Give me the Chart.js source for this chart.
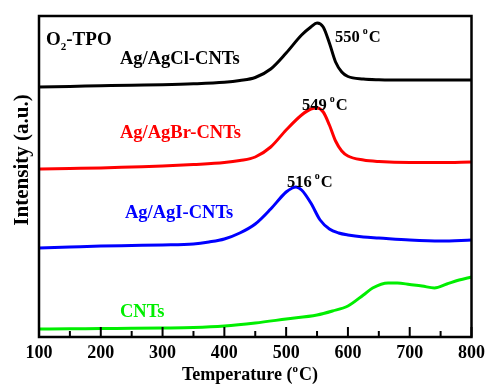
<!DOCTYPE html>
<html>
<head>
<meta charset="utf-8">
<script src="https://cdn.jsdelivr.net/npm/chart.js@4"></script>
<style>
html,body{margin:0;padding:0;background:#fff;}
#wrap{width:491px;height:386px;}
</style>
</head>
<body>
<div id="wrap"><canvas id="c" width="491" height="386"></canvas></div>
<script>
// Temperature (°C) sample points for each curve (intensity in arbitrary units)
const tAgCl = [100,150,200,250,300,350,400,425,450,475,500,525,540,550,560,570,580,590,600,625,650,700,750,800];
const vAgCl = [250,250.6,251.2,251.8,252.3,253.2,254.8,256.5,259.5,268,284,302,310,314,310,294,275,265,260.5,258,257.3,257,257,257];

const tAgBr = [100,150,200,250,300,350,400,425,450,475,500,525,540,550,560,570,580,590,600,625,650,700,750,800];
const vAgBr = [168,168.5,169,170,171,172.5,174.5,176.5,180,190,207,222,228,229,225,212,196,186,181,177,175.5,174.5,174.5,175];

const tAgI = [100,150,200,250,300,350,375,400,425,450,475,500,510,516,525,540,555,570,585,600,625,650,700,750,800];
const vAgI = [89,90,91,91.5,92,93,95,98,104,113,128,145,149,150,147,134,117,108,104,102,100,99,97,96,97];

const tCNT = [100,150,200,250,300,350,400,450,500,550,575,600,625,640,665,680,700,720,740,760,780,800];
const vCNT = [8,8.2,8.5,8.7,9,9.5,11,14,18,22,26,31,42,49,54,54,52.5,51,49,53,57,60];

const seriesNames = ['Ag/AgCl-CNTs','Ag/AgBr-CNTs','Ag/AgI-CNTs','CNTs'];
const seriesColors = ['#000000','#ff0000','#0000ff','#00ee00'];
const peakLabels = ['550','549','516'];
const xTicks = [100,200,300,400,500,600,700,800];

const SERIF = "'Liberation Serif','Times New Roman',serif";

function pts(t,v){ return t.map((x,i)=>({x:x,y:v[i]})); }

function drawRich(ctx, parts, x, y){
  let cx = x;
  for(const p of parts){
    ctx.font = 'bold ' + p.size + 'px ' + SERIF;
    ctx.fillText(p.text, cx, y + (p.dy||0));
    cx += ctx.measureText(p.text).width + (p.gap||0);
  }
}

const decor = {
  id:'decor',
  afterDatasetsDraw(chart){
    const ctx = chart.ctx, a = chart.chartArea, xs = chart.scales.x;
    ctx.save();
    // frame
    ctx.strokeStyle = '#000'; ctx.lineWidth = 2.5;
    ctx.strokeRect(a.left, a.top, a.right-a.left, a.bottom-a.top);
    // inward ticks
    ctx.lineWidth = 2;
    for(let v=100; v<=800; v+=50){
      const px = xs.getPixelForValue(v);
      const len = (v % 100 === 0) ? 10 : 6;
      ctx.beginPath(); ctx.moveTo(px, a.bottom); ctx.lineTo(px, a.bottom-len); ctx.stroke();
    }
    ctx.textAlign = 'left'; ctx.textBaseline = 'alphabetic';
    // O2-TPO
    ctx.fillStyle = '#000';
    drawRich(ctx, [{text:'O',size:19},{text:'2',size:11,dy:5},{text:'-TPO',size:19}], 46, 45);
    // series labels
    const lab = [[120,64],[120,138],[125,218],[120,317]];
    seriesNames.forEach((n,i)=>{
      ctx.fillStyle = seriesColors[i];
      ctx.font = 'bold 18.5px ' + SERIF;
      ctx.fillText(n, lab[i][0], lab[i][1]);
    });
    // peak labels
    ctx.fillStyle = '#000';
    const pk = [[335,42],[302,110],[287,187]];
    peakLabels.forEach((p,i)=>{
      drawRich(ctx, [{text:p,size:16.5,gap:3},{text:'o',size:10,dy:-8,gap:1},{text:'C',size:16.5}], pk[i][0], pk[i][1]);
    });
    // x title
    ctx.font = 'bold 18px ' + SERIF;
    const w1 = ctx.measureText('Temperature (').width;
    ctx.font = 'bold 11px ' + SERIF;
    const w2 = ctx.measureText('o').width;
    ctx.font = 'bold 18px ' + SERIF;
    const w3 = ctx.measureText('C)').width;
    const tw = w1+w2+w3+1;
    drawRich(ctx, [{text:'Temperature (',size:18},{text:'o',size:11,dy:-8,gap:1},{text:'C)',size:18}], 250 - tw/2, 380);
    // y title
    ctx.translate(28, 160);
    ctx.rotate(-Math.PI/2);
    ctx.textAlign = 'center';
    ctx.font = 'bold 21px ' + SERIF;
    ctx.fillText('Intensity (a.u.)', 0, 0);
    ctx.restore();
  }
};

const datasets = [
  [tAgCl,vAgCl],[tAgBr,vAgBr],[tAgI,vAgI],[tCNT,vCNT]
].map((d,i)=>({
  label: seriesNames[i],
  data: pts(d[0],d[1]),
  borderColor: seriesColors[i],
  backgroundColor: seriesColors[i],
  borderWidth: 3,
  pointRadius: 0,
  fill: false,
  cubicInterpolationMode: 'monotone'
}));

new Chart(document.getElementById('c'), {
  type: 'line',
  data: { datasets },
  plugins: [decor],
  options: {
    responsive: false,
    animation: false,
    devicePixelRatio: 1,
    layout: { padding: { left: 39, right: 16, top: 16, bottom: 0 } },
    plugins: { legend: { display: false }, tooltip: { enabled: false } },
    scales: {
      x: {
        type: 'linear', min: 100, max: 800,
        afterBuildTicks(s){ s.ticks = xTicks.map(v=>({value:v})); },
        afterFit(s){ s.height = 49; },
        grid: { display: false, drawTicks: false },
        border: { display: false },
        ticks: { color: '#000', padding: 6, maxRotation: 0, autoSkip: false,
                 font: { family: SERIF, size: 18, weight: 'bold' } }
      },
      y: {
        type: 'linear', min: 0, max: 321, display: false
      }
    }
  }
});
</script>
</body>
</html>
